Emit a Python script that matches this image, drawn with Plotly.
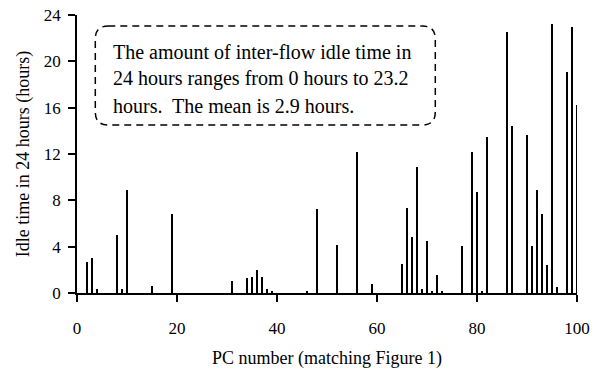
import plotly.graph_objects as go

# PC number and idle time (hours)
pc_numbers = [2, 3, 4, 8, 9, 10, 15, 19, 31, 34, 35, 36, 37, 38, 39, 46, 48, 52, 56, 59,
              65, 66, 67, 68, 69, 70, 71, 72, 73, 77, 79, 80, 81, 82, 86, 87, 90, 91, 92,
              93, 94, 95, 96, 98, 99, 100]
idle_hours = [2.7, 3.0, 0.35, 5.0, 0.35, 8.9, 0.58, 6.86, 1.04, 1.3, 1.42, 1.96, 1.42, 0.35,
              0.2, 0.17, 7.23, 4.18, 12.2, 0.75, 2.54, 7.38, 4.87, 10.84, 0.32, 4.47, 0.17,
              1.59, 0.17, 4.03, 12.19, 8.73, 0.17, 13.48, 22.56, 14.4, 13.6, 4.1, 8.9, 6.8,
              2.4, 23.2, 0.5, 19.1, 23.0, 16.2]

x_ticks = [0, 20, 40, 60, 80, 100]
y_ticks = [0, 4, 8, 12, 16, 20, 24]

note_lines = [
    "The amount of inter-flow idle time in",
    "24 hours ranges from 0 hours to 23.2",
    "hours.  The mean is 2.9 hours.",
]

FONT = "Liberation Serif, Times New Roman, serif"

fig = go.Figure()
fig.add_trace(go.Bar(x=pc_numbers, y=idle_hours, width=0.32,
                     marker=dict(color="black", line=dict(width=0)),
                     showlegend=False))

# rounded dashed box (data coordinates)
x0, x1, y0, y1 = 3.66, 71.66, 14.5, 23.05
rx, ry = 2.6, 1.12
path = (f"M {x0+rx},{y1} L {x1-rx},{y1} Q {x1},{y1} {x1},{y1-ry} "
        f"L {x1},{y0+ry} Q {x1},{y0} {x1-rx},{y0} "
        f"L {x0+rx},{y0} Q {x0},{y0} {x0},{y0+ry} "
        f"L {x0},{y1-ry} Q {x0},{y1} {x0+rx},{y1} Z")
fig.add_shape(type="path", path=path, xref="x", yref="y",
              line=dict(color="black", width=1.5, dash="7px,5px"))

line_y = [20.8, 18.5, 16.15]
for txt, yy in zip(note_lines, line_y):
    fig.add_annotation(x=6.7, y=yy, xref="x", yref="y", text=txt, showarrow=False,
                       xanchor="left", yanchor="middle",
                       font=dict(family=FONT, size=20, color="black"))

fig.update_layout(
    template="none",
    width=597, height=371,
    margin=dict(l=77, r=20, t=15, b=78, autoexpand=False),
    paper_bgcolor="white", plot_bgcolor="white",
    font=dict(family=FONT, size=17, color="black"),
    bargap=0,
)
fig.update_xaxes(range=[0, 100], tickvals=x_ticks, ticks="outside", ticklen=7,
                 tickcolor="black", tickwidth=1.5, showline=True, linecolor="black",
                 linewidth=1.5, showgrid=False, zeroline=False, automargin=False,
                 ticklabelstandoff=12,
                 title=dict(text="PC number (matching Figure 1)", standoff=14,
                            font=dict(family=FONT, size=18)))
fig.update_yaxes(range=[0, 24], tickvals=y_ticks, ticks="outside", ticklen=7,
                 tickcolor="black", tickwidth=1.5, showline=True, linecolor="black",
                 linewidth=1.5, showgrid=False, zeroline=False, automargin=False,
                 ticklabelstandoff=4,
                 title=dict(text="Idle time in 24 hours (hours)", standoff=10,
                            font=dict(family=FONT, size=18)))

fig.write_html("out.html", config={"displayModeBar": False},
               post_script="document.body.style.margin='0';document.body.style.overflow='hidden';")
